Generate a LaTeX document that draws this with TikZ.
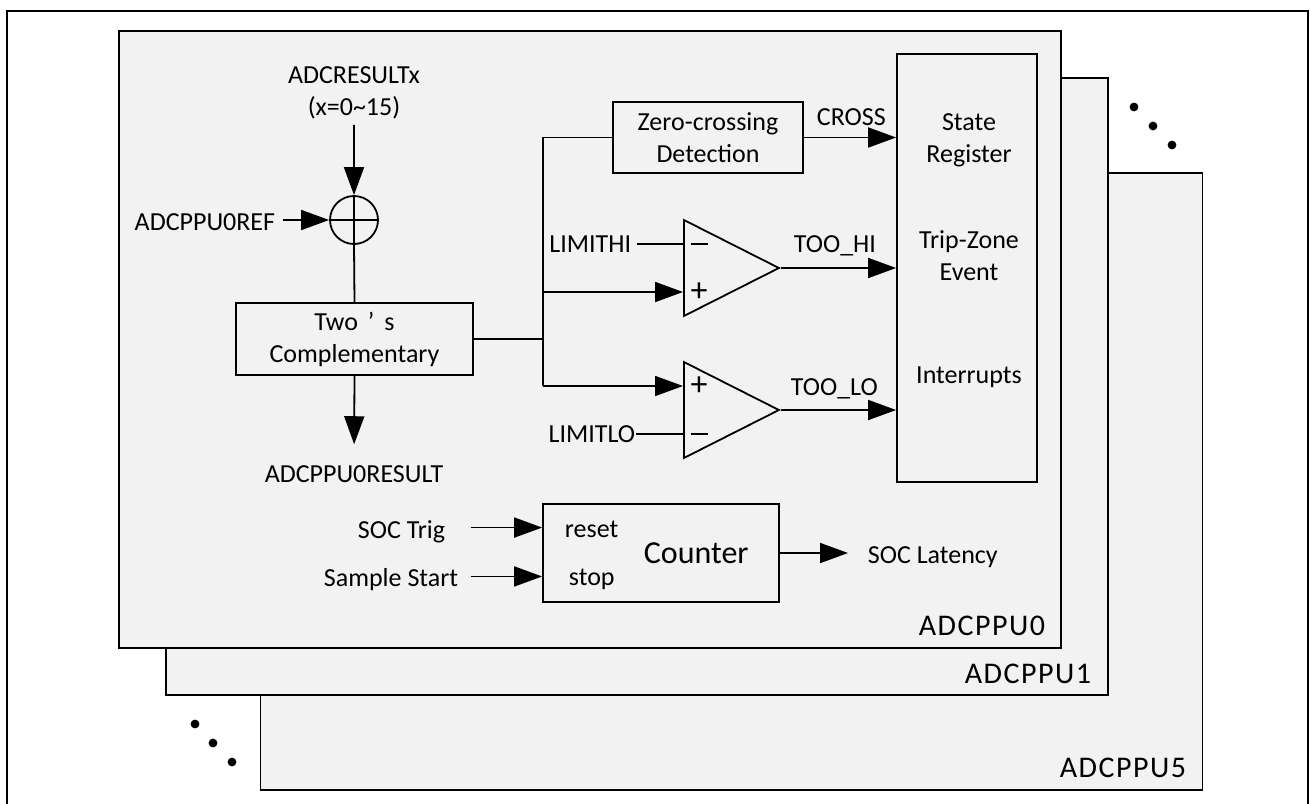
\documentclass[tikz,border=0pt]{standalone}
\usepackage{fontspec}
\setmainfont{Carlito}
\newfontfamily\panelfont[LetterSpace=5]{Carlito}
\usepackage{xcolor}
\usepackage{tikz}
\usetikzlibrary{arrows.meta,calc,shapes.geometric}
\definecolor{panelgray}{RGB}{242,242,242}

\begin{document}
\begin{tikzpicture}[
    x=0.5pt, y=-0.5pt,
    >={Triangle[length=14pt,width=10pt]},
    line width=0.9pt,
    panel/.style={draw, fill=panelgray, minimum width=471pt, minimum height=308.5pt, inner sep=0pt},
    block/.style={draw, font=\fontsize{13}{16}\selectfont, align=center, inner sep=0pt},
    lbl/.style={font=\fontsize{13}{16}\selectfont, inner sep=0pt},
    plbl/.style={font=\fontsize{15}{18}\panelfont, inner sep=0pt, anchor=base east},
    comp/.style={draw, isosceles triangle, isosceles triangle stretches, minimum width=48pt, minimum height=47.5pt, inner sep=0pt, anchor=west},
    sign/.style={font=\fontsize{17}{17}\selectfont, inner sep=0pt},
    sumnode/.style={draw, circle, minimum size=24pt, inner sep=0pt}
]
\useasboundingbox (0,0) rectangle (1310,803);
\draw (7,11) rectangle (1308,830);

\node[panel] (ppu5) at (731.5,481.5) {};
\node[panel] (ppu1) at (637,386.5) {};
\node[panel] (ppu0) at (590,339.5) {};
\node[plbl] (ppu0lbl) at (1046,635) {ADCPPU0};
\node[plbl] (ppu1lbl) at (1092,683) {ADCPPU1};
\node[plbl] (ppu5lbl) at (1187,777) {ADCPPU5};

\foreach \x/\y in {1134/107,1153/126,1172/145,195/724,213/743,232/762}
    \fill (\x,\y) circle[radius=2.2pt];

\node[lbl, align=center] (adcres) at (354,93) {ADCRESULTx\\(x=0\textasciitilde15)};
\node[sumnode] (sum) at (354,220) {};
\draw (sum.north) -- (sum.south) (sum.west) -- (sum.east);
\node[lbl, anchor=base east] (ref) at (276,230) {ADCPPU0REF};
\node[block, minimum width=118.5pt, minimum height=36pt] (twos) at (354.5,339) {Two\hspace{5pt}’\hspace{5pt}s\\Complementary};
\node[lbl, anchor=base] (res) at (354,482) {ADCPPU0RESULT};

\draw[->, shorten <=2.5pt] (adcres.south) -- (sum.north);
\draw[->, shorten <=3.5pt] (ref.east |- sum.west) -- (sum.west);
\draw (sum.south) -- (twos.north);
\draw[->, shorten >=10pt] (twos.south) -- (res.north);

\coordinate (brtop) at (543,140);
\node[block, minimum width=95pt, minimum height=35.5pt] (zc) at (708,137.5) {Zero-crossing\\Detection};
\node[block, minimum width=70pt, minimum height=214pt] (streg) at (967,268) {};
\node[comp] (hi) at (683,268) {};
\node[comp] (lo) at (683,410) {};
\coordinate (himinus) at ($(hi.west)+(0,-24)$);
\coordinate (hiplus) at ($(hi.west)+(0,24)$);
\coordinate (loplus) at ($(lo.west)+(0,-24)$);
\coordinate (lominus) at ($(lo.west)+(0,24)$);
\node[sign] (hineg) at ($(himinus)+(16,0)$) {\rule{8.5pt}{1pt}};
\node[sign] (hipos) at ($(hiplus)+(16,0)$) {+};
\node[sign] (lopos) at ($(loplus)+(16,0)$) {+};
\node[sign] (loneg) at ($(lominus)+(16,0)$) {\rule{8.5pt}{1pt}};
\node[lbl, anchor=east] (limhi) at (632,244) {LIMITHI};
\node[lbl, anchor=east] (limlo) at (636,434) {LIMITLO};

\draw (twos.east) -- (twos.east -| brtop);
\draw (zc.west) -- (zc.west -| brtop) -- (brtop |- loplus);
\draw[->] (brtop |- hiplus) -- (hiplus);
\draw[->] (brtop |- loplus) -- (loplus);
\draw[shorten <=2.5pt] (limhi.east) -- (himinus);
\draw (limlo.east) -- (lominus);

\draw[->] (zc.east) -- (zc.east -| streg.west);
\draw[->] (hi.apex) -- (hi.apex -| streg.west);
\draw[->] (lo.apex) -- (lo.apex -| streg.west);
\node[lbl, anchor=base west] (crosslbl) at (816,125) {CROSS};
\node[lbl, anchor=base west] (toohi) at (793,252) {TOO\_HI};
\node[lbl, anchor=base west] (toolo) at (790,395) {TOO\_LO};

\node[lbl, align=center] (sttxt) at (969,140) {State\\Register};
\node[lbl, align=center] (tztxt) at (969,256) {Trip-Zone\\Event};
\node[lbl, anchor=base] (irqtxt) at (969,383) {Interrupts};

\node[block, minimum width=118pt, minimum height=49pt] (cnt) at (661,553) {};
\node[lbl, font=\fontsize{16}{19}\selectfont, anchor=base west] (cnttxt) at (643,563) {Counter};
\node[lbl, anchor=base west] (rst) at (564,537) {reset};
\node[lbl, anchor=base west] (stp) at (568,585) {stop};
\node[lbl, anchor=base east] (trig) at (446,538) {SOC Trig};
\node[lbl, anchor=base east] (samp) at (459,586) {Sample Start};
\node[lbl, anchor=base west] (lat) at (867,563) {SOC Latency};
\coordinate (cin1) at ($(cnt.north west)!0.245!(cnt.south west)$);
\coordinate (cin2) at ($(cnt.north west)!0.735!(cnt.south west)$);

\draw[->, shorten <=6pt] (samp.east |- cin1) -- (cin1);
\draw[->, shorten <=6pt] (samp.east |- cin2) -- (cin2);
\draw[->, shorten >=9.5pt] (cnt.east) -- (cnt.east -| lat.west);
\end{tikzpicture}
\end{document}
